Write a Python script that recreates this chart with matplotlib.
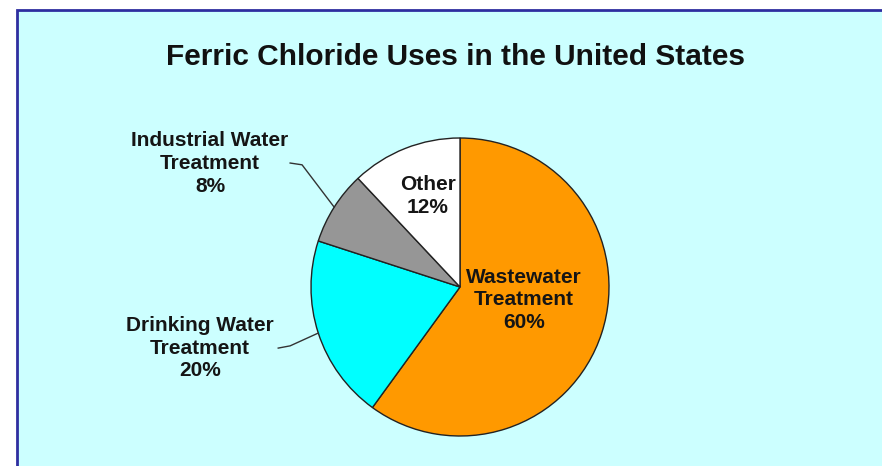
import matplotlib.pyplot as plt
import numpy as np
from matplotlib.patches import Rectangle

categories = ['Wastewater\nTreatment', 'Drinking Water\nTreatment',
              'Industrial Water\nTreatment', 'Other']
shares = [60, 20, 8, 12]
colors = ['#FF9900', '#00FFFF', '#969696', '#FFFFFF']

W, H = 882, 466
fig = plt.figure(figsize=(W / 100, H / 100), dpi=100)
fig.patch.set_facecolor('white')

# chart area: light cyan, blue border on top and left (picture is cropped)
bg = Rectangle((17 / W, -0.1), 1.0, 1.1 - 10 / H, transform=fig.transFigure,
               facecolor='#CCFFFF', edgecolor='#2E2EA0', linewidth=2, zorder=-5)
fig.patches.append(bg)

fig.text(455 / W, 1 - 57 / H, 'Ferric Chloride Uses in the United States',
         ha='center', va='center', fontsize=21.5, fontweight='bold',
         family='Liberation Sans', color='#111111')

cx, cy, r = 460, 287, 149
ax = fig.add_axes([(cx - r) / W, (H - cy - r) / H, 2 * r / W, 2 * r / H])
ax.set_facecolor('none')
wedges, _ = ax.pie(shares, colors=colors, startangle=90, counterclock=False,
                   radius=1, frame=False,
                   wedgeprops=dict(edgecolor='#222222', linewidth=1))
ax.set_xlim(-1, 1)
ax.set_ylim(-1, 1)
ax.axis('off')

label_pos = [(0.43, -0.087), (-1.745, -0.41), (-1.678, 0.83), (-0.215, 0.61)]
for cat, val, (x, y) in zip(categories, shares, label_pos):
    ax.text(x, y, f'{cat}\n{val}%', ha='center', va='center', fontsize=15,
            fontweight='bold', family='Liberation Sans', color='#151515',
            linespacing=1.25)

# leader lines for the outside labels
starts = {1: [(-1.22, -0.41), (-1.14, -0.395)], 2: [(-1.14, 0.832), (-1.06, 0.82)]}
for i, pts in starts.items():
    w = wedges[i]
    mid = np.deg2rad((w.theta1 + w.theta2) / 2)
    ex, ey = np.cos(mid), np.sin(mid)
    xs = [p[0] for p in pts] + [ex]
    ys = [p[1] for p in pts] + [ey]
    ax.plot(xs, ys, color='#333333', linewidth=1, clip_on=False)

fig.savefig('out.png', dpi=100)
